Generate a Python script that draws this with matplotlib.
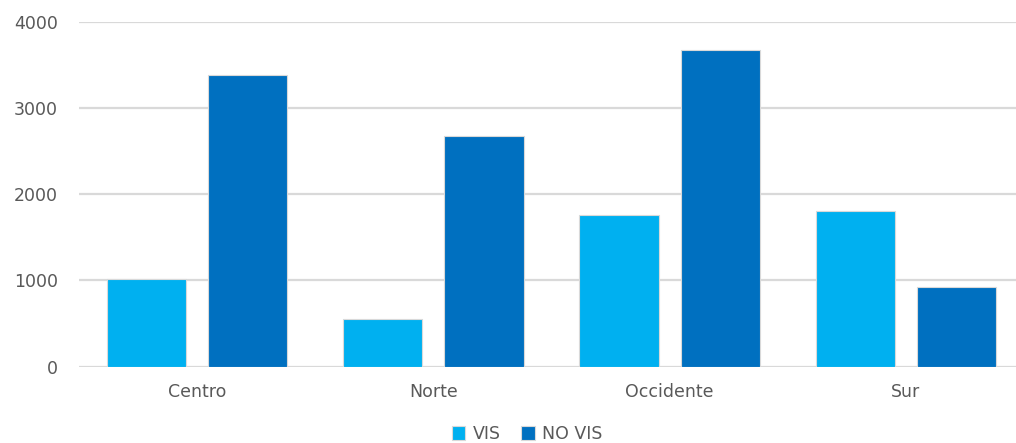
import numpy as np
import matplotlib.pyplot as plt

# Datos por zona
zonas = ['Centro', 'Norte', 'Occidente', 'Sur']
vis = [1020, 550, 1760, 1800]
no_vis = [3385, 2675, 3675, 920]

c_vis = '#00B0F0'
c_novis = '#0070C0'
gris = '#595959'

plt.rcParams['font.family'] = ['DejaVu Sans']

fig = plt.figure(figsize=(10.16, 4.43), dpi=100)
ax = fig.add_axes([79 / 1016, 76.5 / 443, 945 / 1016, 344.5 / 443])

x = np.arange(len(zonas))
ancho = 0.335
desp = 0.214
ax.bar(x - desp, vis, ancho, color=c_vis, edgecolor='#d9d9d9', linewidth=0.8, label='VIS', zorder=3)
ax.bar(x + desp, no_vis, ancho, color=c_novis, edgecolor='#d9d9d9', linewidth=0.8, label='NO VIS', zorder=3)

ax.set_xlim(-0.5, 3.5)
ax.set_ylim(0, 4000)
ax.set_yticks([0, 1000, 2000, 3000, 4000])
ax.set_xticks(x)
ax.set_xticklabels(zonas)
ax.yaxis.grid(True, color='#d9d9d9', linewidth=1.6, zorder=0)
for s in ax.spines.values():
    s.set_visible(False)
ax.tick_params(axis='both', length=0, labelsize=12.5, labelcolor=gris)
ax.tick_params(axis='y', pad=15)
ax.tick_params(axis='x', pad=12)

fig.legend(loc='center', bbox_to_anchor=(527 / 1016, 9 / 443), ncol=2, frameon=False,
           fontsize=12.5, labelcolor=gris, handlelength=0.8, handleheight=0.8,
           handletextpad=0.4, columnspacing=1.2)

fig.savefig('out.png', dpi=100)
